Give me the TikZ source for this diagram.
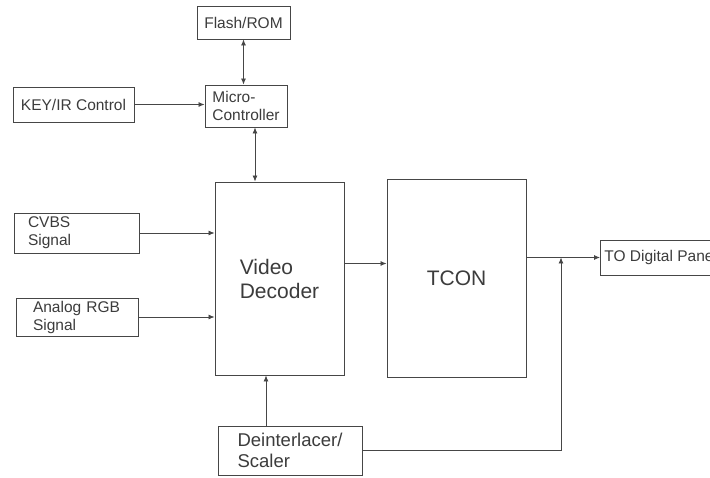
\documentclass[tikz,border=0pt]{standalone}
\usepackage{fontspec}
\setmainfont{Liberation Sans}
\usepackage{xcolor}
\usepackage{tikz}
\usetikzlibrary{arrows.meta, positioning, calc}
\definecolor{linegray}{RGB}{70, 70, 70}
\definecolor{textgray}{RGB}{60, 60, 60}
\tikzset{
    blk/.style={rectangle, draw=linegray, line width=0.9pt, fill=white,
                text=textgray, align=left, inner ysep=2pt,
                font=\fontsize{15.5}{18}\selectfont},
    bigblk/.style={blk, font=\fontsize{21}{24}\selectfont},
    arr/.style={line width=0.8pt, color=linegray, -{Latex[length=6pt, width=5pt]}},
    biarr/.style={line width=0.8pt, color=linegray,
                  {Latex[length=6pt, width=5pt]}-{Latex[length=6pt, width=5pt]}},
}

\begin{document}
\begin{tikzpicture}[x=1pt, y=-1pt]
    \useasboundingbox (0,0) rectangle (710,478);
    \node[blk, minimum width=93pt, minimum height=33pt] (flash) at (243.5,22.5) {Flash/ROM};
    \node[blk, minimum width=82pt, minimum height=42pt] (micro) at (246,106) {Micro-\\Controller};
    \node[blk, minimum width=121pt, minimum height=35pt] (keyir) at (73.5,104.5) {KEY/IR Control};
    \node[bigblk, minimum width=129pt, minimum height=193pt] (vdec) at (279.5,278.5) {Video\\Decoder};
    \node[bigblk, minimum width=139pt, minimum height=198pt] (tcon) at (456.5,278) {TCON};
    \node[blk, inner xsep=14pt, text width=97pt, minimum height=40pt] (cvbs) at (76.5,233) {CVBS\\Signal};
    \node[blk, inner xsep=17pt, text width=88pt, minimum height=38pt] (argb) at (77,317) {Analog RGB\\Signal};
    \node[blk, font=\fontsize{18.5}{21}\selectfont, minimum width=144pt, minimum height=49pt] (deint) at (290,450.5) {Deinterlacer/\\Scaler};
    \node[blk, anchor=west, inner xsep=4pt, minimum height=35pt] (panel) at (600,257.5) {TO Digital Panel};
    \coordinate (tap) at (561,257.5);

    \draw[biarr] (micro.north -| flash.south) -- (flash.south);
    \draw[arr] (keyir.east) -- (keyir -| micro.west);
    \draw[biarr] ([xshift=9pt]micro.south) -- ([xshift=9pt]micro.south |- vdec.north);
    \draw[arr] (cvbs.east) -- (cvbs -| vdec.west);
    \draw[arr] (argb.east) -- (argb -| vdec.west);
    \draw[arr] ([xshift=-24pt]deint.north) -- ([xshift=-24pt]deint.north |- vdec.south);
    \draw[arr] ([yshift=15pt]vdec.east) -- ([yshift=15pt]vdec.east -| tcon.west);
    \draw[arr] (tcon.east |- panel.west) -- (panel.west);
    \draw[arr] (deint.east) -| (tap);
\end{tikzpicture}
\end{document}
